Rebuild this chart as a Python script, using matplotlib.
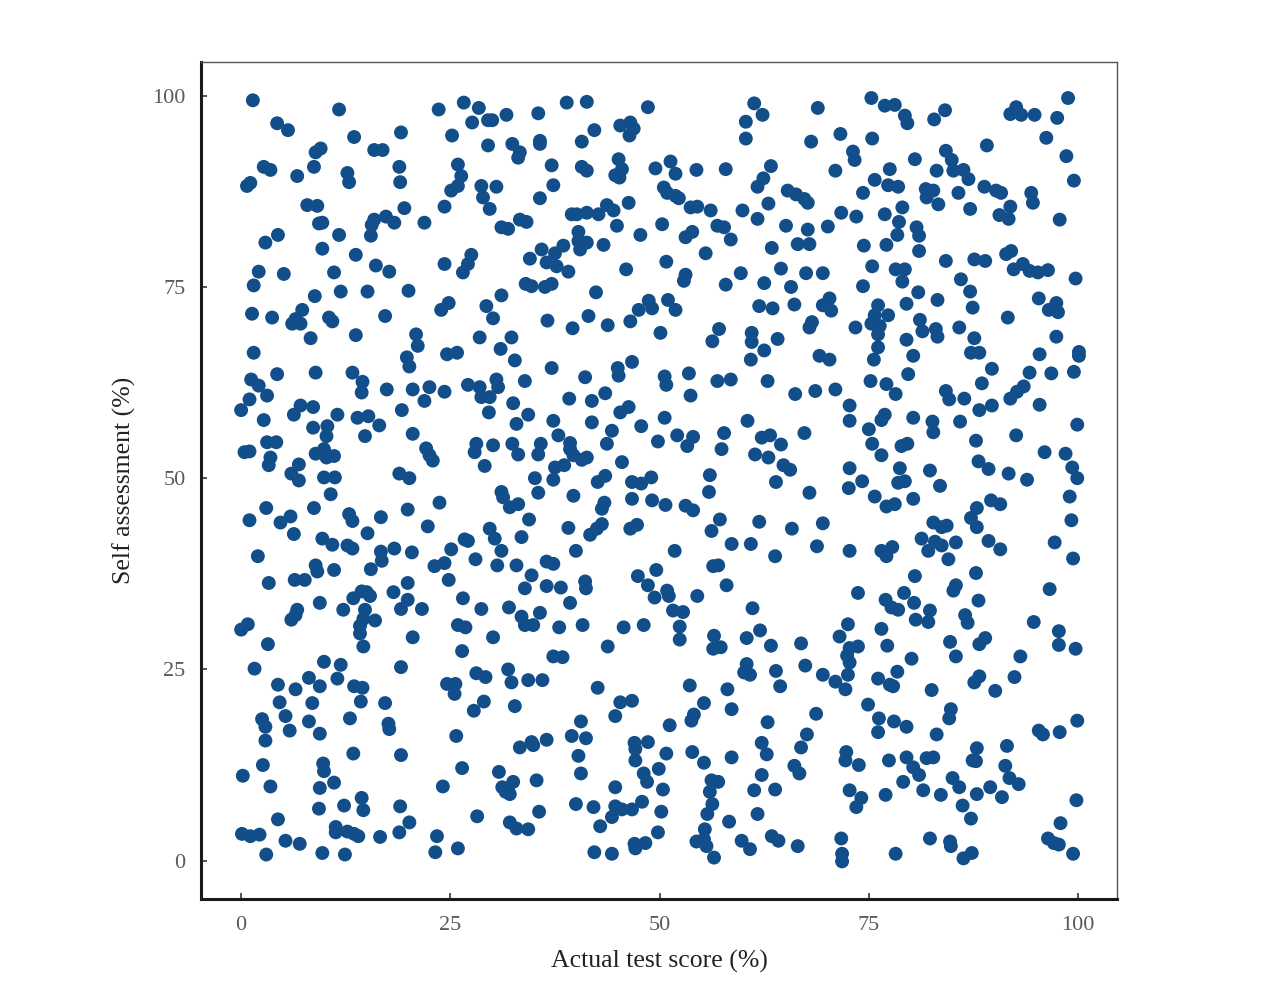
import numpy as np
import matplotlib.pyplot as plt

# (actual test score %, self assessment %), region by region
scores = [
    # top-left
    (1.4, 99.4), (11.7, 98.2), (4.3, 96.4), (5.6, 95.5), (13.5, 94.6), (19.1, 95.2),
    (8.9, 92.6), (9.5, 93.1), (15.9, 92.9), (16.9, 92.9), (23.6, 98.2), (26.6, 99.1),
    (28.4, 98.4), (27.6, 96.5), (29.5, 96.8), (30.0, 96.8), (31.7, 97.5), (25.2, 94.8),
    (29.5, 93.5), (2.7, 90.7), (3.5, 90.3), (6.7, 89.5), (8.7, 90.7), (12.7, 89.9),
    (12.9, 88.7), (18.9, 90.7), (19.0, 88.7), (1.1, 88.6), (0.7, 88.2), (25.9, 91.0),
    (26.3, 89.5), (25.9, 88.2), (25.1, 87.6), (28.7, 88.2), (30.5, 88.1), (28.9, 86.7),
    (29.7, 85.2), (24.3, 85.5), (7.9, 85.7), (9.1, 85.6), (9.3, 83.3), (9.7, 83.4),
    (15.9, 83.8), (17.3, 84.2), (18.3, 83.4), (15.6, 83.1), (19.5, 85.3), (21.9, 83.4),
    (15.5, 81.7), (11.7, 81.8), (2.9, 80.8), (4.4, 81.8), (9.7, 80.0), (13.7, 79.2),
    (16.1, 77.8), (17.7, 77.0), (24.3, 78.0), (27.5, 79.2), (27.1, 78.0), (26.5, 76.9),
    (2.1, 77.0), (5.1, 76.7), (11.1, 76.9), (31.1, 82.8), (31.9, 82.6),
    # top-middle
    (35.5, 97.7), (38.9, 99.1), (41.3, 99.2), (48.6, 98.5), (61.3, 99.0), (62.3, 97.5),
    (60.3, 96.6), (60.3, 94.4), (68.1, 94.0), (32.4, 93.7), (33.3, 92.6), (33.1, 91.9),
    (35.7, 94.1), (35.7, 93.7), (40.7, 94.0), (42.2, 95.5), (45.3, 96.1), (46.5, 96.5),
    (46.9, 95.7), (46.4, 94.8), (37.1, 90.9), (40.7, 90.7), (41.3, 90.2), (45.1, 91.7),
    (45.5, 90.4), (44.7, 89.6), (45.2, 89.3), (49.5, 90.5), (51.3, 91.4), (51.9, 89.8),
    (54.4, 90.3), (57.9, 90.4), (63.3, 90.8), (62.4, 89.2), (61.7, 88.1), (37.3, 88.3),
    (35.7, 86.6), (50.5, 88.0), (50.9, 87.3), (51.9, 86.9), (52.3, 86.6), (46.3, 86.0),
    (65.3, 87.6), (66.3, 87.1), (67.3, 86.5), (67.7, 86.0), (33.3, 83.8), (34.1, 83.5),
    (39.5, 84.5), (40.1, 84.5), (41.3, 84.7), (42.7, 84.5), (43.7, 85.7), (44.5, 85.0),
    (44.9, 83.0), (53.7, 85.4), (54.5, 85.5), (56.1, 85.0), (59.9, 85.0), (63.0, 85.9),
    (61.7, 83.9), (50.3, 83.2), (56.9, 83.0), (57.7, 82.8), (47.7, 81.8), (53.1, 81.5),
    (53.9, 82.2), (58.5, 81.2), (65.1, 83.0), (67.7, 82.5), (66.5, 80.6), (67.9, 80.6),
    (40.3, 82.2), (40.3, 81.0), (41.3, 80.8), (40.5, 79.9), (43.3, 80.5), (38.5, 80.4),
    (37.5, 79.4), (35.9, 79.9), (34.5, 78.7), (36.5, 78.2), (37.7, 77.7), (39.1, 77.0),
    (46.0, 77.3), (50.8, 78.3), (55.5, 79.4), (63.4, 80.1), (64.5, 77.4), (59.7, 76.8),
    (67.5, 76.8), (53.1, 76.6),
    # top-right
    (68.9, 98.4), (75.3, 99.7), (76.9, 98.7), (78.1, 98.8), (79.3, 97.4), (79.6, 96.4),
    (82.8, 96.9), (84.1, 98.1), (91.9, 97.6), (92.6, 98.5), (93.2, 97.5), (94.8, 97.5),
    (97.5, 97.1), (98.8, 99.7), (71.6, 95.0), (75.4, 94.4), (96.2, 94.5), (89.1, 93.5),
    (98.6, 92.1), (99.5, 88.9), (73.1, 92.7), (73.3, 91.6), (80.5, 91.7), (71.0, 90.2),
    (77.5, 90.4), (75.7, 89.0), (77.3, 88.3), (78.5, 88.1), (84.2, 92.8), (84.9, 91.6),
    (85.1, 90.2), (83.1, 90.2), (86.3, 90.3), (86.9, 89.1), (88.8, 88.1), (90.2, 87.6),
    (90.8, 87.3), (85.7, 87.3), (81.8, 87.8), (82.7, 87.6), (81.9, 86.7), (83.3, 85.8),
    (87.1, 85.2), (74.3, 87.3), (94.4, 87.3), (94.6, 86.0), (91.9, 85.5), (90.6, 84.4),
    (91.7, 83.9), (97.8, 83.8), (71.7, 84.7), (73.5, 84.2), (76.9, 84.5), (79.0, 85.4),
    (78.6, 83.5), (78.4, 81.8), (80.7, 82.8), (81.0, 81.7), (70.1, 82.9), (74.4, 80.4),
    (77.1, 80.5), (81.0, 79.7), (75.4, 77.7), (78.2, 77.3), (79.3, 77.3), (84.2, 78.4),
    (87.6, 78.6), (88.9, 78.4), (91.4, 79.3), (92.0, 79.7), (92.3, 77.3), (93.4, 78.0),
    (94.2, 77.1), (95.2, 76.9), (96.4, 77.2), (69.5, 76.8),
    # upper-middle left
    (1.5, 75.2), (8.8, 73.8), (11.9, 74.4), (15.1, 74.4), (20.0, 74.5), (31.1, 73.9),
    (1.3, 71.5), (3.7, 71.0), (6.5, 70.8), (6.1, 70.2), (7.3, 72.0), (7.1, 70.2),
    (10.5, 71.0), (10.9, 70.5), (17.2, 71.2), (23.9, 72.0), (24.8, 72.9), (29.3, 72.5),
    (30.1, 70.9), (8.3, 68.3), (13.7, 68.7), (20.9, 68.8), (21.1, 67.3), (28.5, 68.4),
    (31.0, 66.9), (1.5, 66.4), (19.8, 65.8), (20.1, 64.6), (24.6, 66.2), (25.8, 66.4),
    (1.2, 62.9), (2.1, 62.1), (3.1, 60.8), (1.0, 60.3), (0.0, 58.9), (4.3, 63.6),
    (8.9, 63.8), (13.3, 63.8), (14.5, 62.6), (14.4, 61.2), (17.4, 61.6), (20.5, 61.6),
    (22.5, 61.9), (21.9, 60.1), (24.3, 61.3), (27.1, 62.2), (28.5, 61.9), (30.5, 62.9),
    (30.7, 61.9), (28.7, 60.6), (29.7, 60.6), (29.6, 58.6), (7.1, 59.5), (6.3, 58.3),
    (8.6, 59.3), (2.7, 57.6), (11.5, 58.3), (8.6, 56.6), (10.3, 56.8), (10.2, 55.5),
    (13.9, 57.9), (15.2, 58.1), (16.5, 56.9), (14.8, 55.5), (19.2, 58.9), (20.5, 55.8),
    (1.0, 53.5), (0.4, 53.4), (3.1, 54.7), (4.2, 54.7), (3.5, 52.7), (3.3, 51.7),
    (6.9, 51.8), (6.0, 50.6), (6.9, 49.7), (8.9, 53.2), (9.9, 53.8), (10.2, 52.7),
    (11.1, 52.9), (9.9, 50.1), (11.2, 50.1), (18.9, 50.6), (20.1, 50.0), (22.1, 53.9),
    (22.5, 53.0), (22.9, 52.3), (28.1, 54.5), (27.9, 53.4), (30.1, 54.3), (29.1, 51.6),
    # upper-middle centre
    (34.0, 75.4), (34.7, 75.1), (36.3, 75.0), (37.1, 75.4), (52.9, 75.8), (57.9, 75.3),
    (62.5, 75.5), (65.7, 75.0), (42.4, 74.3), (36.6, 70.6), (39.6, 69.6), (41.5, 71.2),
    (43.8, 70.0), (46.5, 70.5), (47.5, 72.0), (48.7, 73.2), (49.1, 72.2), (51.0, 73.3),
    (51.9, 72.0), (50.1, 69.0), (32.3, 68.4), (32.7, 65.4), (37.1, 64.4), (33.9, 62.7),
    (41.1, 63.2), (45.0, 64.4), (45.1, 63.4), (46.7, 65.2), (50.6, 63.3), (50.8, 62.2),
    (53.5, 63.7), (53.7, 60.8), (57.1, 69.5), (56.3, 67.9), (61.0, 69.0), (61.0, 67.8),
    (62.5, 66.7), (64.1, 68.2), (60.9, 65.5), (61.9, 72.5), (63.5, 72.2), (66.1, 72.7),
    (67.9, 69.7), (56.9, 62.7), (58.5, 62.9), (62.9, 62.7), (66.2, 61.0), (32.5, 59.8),
    (32.9, 57.1), (34.3, 58.3), (37.3, 57.5), (39.2, 60.4), (41.9, 60.1), (43.5, 61.1),
    (45.3, 58.6), (46.3, 59.3), (41.9, 57.3), (47.8, 56.8), (50.6, 57.9), (44.3, 56.2),
    (37.9, 55.6), (32.4, 54.5), (33.1, 53.1), (35.8, 54.5), (35.5, 53.1), (39.3, 54.6),
    (39.3, 53.8), (39.7, 53.0), (40.7, 52.4), (41.3, 52.7), (43.7, 54.5), (49.8, 54.8),
    (52.1, 55.6), (54.0, 55.4), (53.3, 54.2), (57.7, 55.9), (57.4, 53.8), (60.5, 57.5),
    (62.2, 55.3), (63.2, 55.6), (64.5, 54.4), (61.4, 53.1), (63.0, 52.7), (67.3, 55.9),
    (64.8, 51.7), (65.6, 51.1), (45.5, 52.1), (37.5, 51.4), (38.6, 51.7), (35.1, 50.0),
    (37.3, 49.8), (43.5, 50.3), (42.6, 49.5), (46.7, 49.5), (47.8, 49.3), (49.0, 50.1),
    (56.0, 50.4), (63.9, 49.5),
    # upper-middle right
    (99.7, 76.1), (86.0, 76.0), (74.3, 75.1), (79.0, 75.7), (80.9, 74.3), (83.2, 73.3),
    (87.1, 74.4), (87.4, 72.3), (69.5, 72.6), (70.3, 73.5), (70.5, 71.9), (68.2, 70.4),
    (76.1, 72.6), (75.7, 71.3), (77.3, 71.3), (75.3, 70.2), (76.3, 69.9), (76.1, 68.8),
    (76.1, 67.1), (73.4, 69.7), (79.5, 72.8), (81.1, 70.7), (81.4, 69.2), (83.0, 69.5),
    (83.2, 68.5), (85.8, 69.7), (79.5, 68.1), (80.3, 66.0), (87.6, 68.3), (87.2, 66.4),
    (88.2, 66.4), (91.6, 71.0), (95.3, 73.5), (97.4, 72.9), (96.5, 72.0), (97.6, 71.7),
    (97.4, 68.5), (100.1, 66.5), (100.1, 66.0), (95.4, 66.2), (99.5, 63.9), (96.8, 63.7),
    (94.2, 63.8), (89.7, 64.3), (69.1, 66.0), (70.3, 65.5), (75.6, 65.5), (79.7, 63.6),
    (75.2, 62.7), (77.1, 62.3), (78.2, 61.0), (68.6, 61.4), (71.0, 61.6), (88.5, 62.4),
    (84.2, 61.4), (84.6, 60.3), (86.4, 60.4), (93.5, 62.0), (92.7, 61.3), (91.9, 60.4),
    (89.7, 59.5), (88.2, 58.9), (95.4, 59.6), (72.7, 59.5), (72.7, 57.5), (76.9, 58.3),
    (76.5, 57.6), (80.3, 57.9), (82.6, 57.4), (82.7, 56.0), (85.9, 57.4), (75.0, 56.4),
    (92.6, 55.6), (99.9, 57.0), (75.4, 54.5), (78.9, 54.2), (79.6, 54.5), (76.5, 53.0),
    (87.8, 54.9), (88.1, 52.2), (89.3, 51.2), (96.0, 53.4), (98.5, 53.2), (99.3, 51.4),
    (99.9, 50.0), (72.7, 51.3), (78.7, 51.3), (82.3, 51.0), (91.7, 50.6), (93.9, 49.8),
    (74.2, 49.6), (78.5, 49.4), (79.3, 49.6),
    # lower-middle left
    (10.7, 47.9), (1.0, 44.5), (3.0, 46.1), (4.7, 44.2), (5.9, 45.0), (6.3, 42.7),
    (8.7, 46.1), (12.9, 45.3), (13.3, 44.4), (16.7, 44.9), (19.9, 45.9), (23.7, 46.8),
    (22.3, 43.7), (15.1, 42.8), (9.7, 42.1), (10.9, 41.3), (12.7, 41.2), (13.3, 40.8),
    (2.0, 39.8), (8.9, 38.6), (9.1, 37.8), (11.1, 38.0), (16.7, 40.4), (16.8, 39.2),
    (18.3, 40.8), (20.4, 40.3), (15.5, 38.1), (6.4, 36.7), (7.6, 36.7), (3.3, 36.3),
    (23.1, 38.5), (24.3, 38.9), (24.8, 36.7), (25.1, 40.7), (26.7, 42.0), (27.1, 41.8),
    (28.0, 39.4), (29.7, 43.4), (30.3, 42.1), (31.1, 40.5), (30.6, 38.6), (31.1, 48.2),
    (31.3, 47.5), (9.4, 33.7), (12.2, 32.8), (13.4, 34.3), (14.4, 35.2), (15.0, 35.1),
    (15.4, 34.6), (14.8, 32.8), (14.6, 31.6), (16.0, 31.4), (14.2, 30.7), (14.2, 29.7),
    (14.6, 28.0), (18.2, 35.1), (19.9, 36.3), (19.9, 34.1), (19.1, 32.9), (21.6, 32.9),
    (20.5, 29.2), (26.5, 34.3), (28.7, 32.9), (25.9, 30.8), (26.8, 30.5), (26.4, 27.4),
    (30.1, 29.2), (6.7, 32.8), (6.0, 31.5), (6.5, 32.1), (0.8, 30.9), (0.0, 30.2),
    (3.2, 28.3), (1.6, 25.1), (9.9, 26.0), (11.9, 25.6), (8.1, 23.9), (11.5, 23.8),
    (4.4, 23.0), (6.5, 22.4), (9.4, 22.8), (13.5, 22.8), (14.5, 22.6), (19.1, 25.3),
    (24.6, 23.1), (25.6, 23.1), (28.1, 24.5), (29.2, 24.0),
    # lower-middle centre
    (35.5, 48.1), (39.7, 47.7), (55.9, 48.2), (67.9, 48.1), (32.1, 46.2), (33.1, 46.6),
    (34.4, 44.6), (33.5, 42.3), (39.1, 43.5), (43.4, 46.8), (43.1, 46.0), (43.1, 44.0),
    (42.5, 43.4), (41.7, 42.6), (46.7, 47.3), (46.5, 43.4), (47.3, 43.9), (49.1, 47.1),
    (50.7, 46.5), (53.1, 46.4), (54.0, 45.8), (40.0, 40.5), (32.9, 38.6), (34.7, 37.3),
    (36.5, 39.1), (37.3, 38.8), (33.9, 35.6), (36.5, 35.9), (38.2, 35.7), (41.1, 36.5),
    (41.2, 35.6), (39.3, 33.7), (32.0, 33.1), (33.5, 31.9), (33.9, 30.8), (34.9, 30.8),
    (35.7, 32.4), (38.0, 30.5), (40.8, 30.8), (45.7, 30.5), (48.1, 30.8), (43.8, 28.0),
    (37.3, 26.7), (38.4, 26.6), (31.9, 25.0), (32.3, 23.3), (34.3, 23.6), (36.0, 23.6),
    (42.6, 22.6), (47.4, 37.2), (49.6, 38.0), (48.6, 36.0), (49.4, 34.4), (50.9, 35.3),
    (51.1, 34.6), (51.6, 32.7), (52.8, 32.5), (52.4, 30.6), (52.4, 28.9), (51.8, 40.5),
    (54.5, 34.6), (56.2, 43.1), (57.2, 44.6), (58.6, 41.4), (60.9, 41.4), (61.9, 44.3),
    (65.8, 43.4), (63.8, 39.8), (56.4, 38.5), (57.0, 38.6), (58.0, 36.0), (61.1, 33.0),
    (62.0, 30.1), (60.4, 29.1), (56.5, 29.4), (56.4, 27.7), (57.3, 27.9), (63.3, 28.1),
    (66.9, 28.4), (67.4, 25.5), (60.4, 25.7), (60.1, 24.6), (60.8, 24.3), (63.9, 24.8),
    (64.4, 22.8), (53.6, 22.9), (58.1, 22.4),
    # lower-middle right
    (83.5, 49.0), (72.6, 48.7), (99.0, 47.6), (99.2, 44.5), (99.4, 39.5), (97.2, 41.6),
    (96.6, 35.5), (69.5, 44.1), (68.8, 41.1), (72.7, 40.5), (75.7, 47.6), (77.1, 46.3),
    (78.1, 46.6), (80.3, 47.3), (76.5, 40.5), (77.1, 39.8), (77.8, 41.0), (81.3, 42.1),
    (82.7, 44.2), (83.7, 43.6), (84.3, 43.8), (82.9, 41.7), (83.7, 41.2), (82.1, 40.5),
    (85.4, 41.6), (84.5, 39.4), (87.2, 44.8), (87.9, 46.1), (87.9, 43.6), (89.6, 47.1),
    (90.7, 46.6), (89.3, 41.8), (90.7, 40.7), (80.5, 37.2), (87.8, 37.6), (85.4, 36.0),
    (85.1, 35.3), (88.1, 34.0), (73.7, 35.0), (77.0, 34.1), (77.7, 33.1), (78.5, 32.8),
    (79.2, 35.0), (80.4, 33.7), (82.3, 32.7), (80.6, 31.5), (82.1, 31.2), (86.5, 32.1),
    (86.8, 31.1), (94.7, 31.2), (97.7, 30.0), (97.7, 28.2), (99.7, 27.7), (72.5, 30.9),
    (71.5, 29.3), (76.5, 30.3), (77.2, 28.1), (73.7, 28.0), (72.7, 27.8), (72.4, 26.8),
    (72.7, 25.9), (72.5, 24.3), (80.1, 26.4), (84.7, 28.6), (85.4, 26.7), (88.2, 28.3),
    (88.9, 29.1), (93.1, 26.7), (92.4, 24.0), (69.5, 24.3), (71.0, 23.4), (72.2, 22.4),
    (76.1, 23.8), (78.4, 24.7), (77.5, 23.0), (77.9, 22.8), (82.5, 22.3), (87.6, 23.3),
    (88.2, 24.1), (90.1, 22.2),
    # bottom-left
    (14.3, 20.8), (25.5, 21.8), (4.6, 20.7), (8.5, 20.6), (17.2, 20.6), (29.0, 20.8),
    (27.8, 19.6), (2.5, 18.5), (2.9, 17.5), (2.9, 15.7), (5.3, 18.9), (5.8, 17.0),
    (8.1, 18.2), (9.4, 16.6), (13.0, 18.6), (17.6, 17.9), (17.7, 17.2), (25.7, 16.3),
    (13.4, 14.0), (19.1, 13.8), (2.6, 12.5), (0.2, 11.1), (3.5, 9.7), (9.8, 12.7),
    (9.9, 11.7), (11.1, 10.2), (9.4, 9.5), (26.4, 12.1), (30.8, 11.6), (31.2, 9.6),
    (31.6, 9.0), (24.1, 9.7), (12.3, 7.2), (14.4, 8.2), (14.6, 6.6), (9.3, 6.8),
    (19.0, 7.1), (20.1, 5.0), (18.9, 3.7), (4.4, 5.4), (0.1, 3.5), (1.1, 3.2),
    (2.2, 3.4), (5.3, 2.6), (7.0, 2.2), (3.0, 0.8), (9.7, 1.0), (12.4, 0.8),
    (11.3, 4.4), (11.3, 3.7), (12.7, 3.8), (13.5, 3.5), (14.0, 3.2), (16.6, 3.1),
    (23.4, 3.2), (23.2, 1.1), (25.9, 1.6), (28.2, 5.8),
    # bottom-centre
    (32.7, 20.2), (45.3, 20.7), (46.7, 20.9), (44.7, 18.9), (55.3, 20.6), (58.6, 19.8),
    (54.1, 19.1), (53.8, 18.3), (51.2, 17.7), (62.9, 18.1), (40.6, 18.2), (39.5, 16.3),
    (41.2, 16.0), (33.3, 14.8), (34.7, 15.5), (34.9, 15.1), (36.5, 15.8), (40.3, 13.7),
    (40.6, 11.4), (47.0, 15.4), (47.1, 14.6), (48.6, 15.5), (47.1, 13.1), (50.8, 14.0),
    (49.9, 12.0), (48.1, 11.4), (48.5, 10.3), (50.4, 9.3), (53.9, 14.2), (55.3, 12.8),
    (58.6, 13.5), (62.2, 15.4), (62.8, 13.9), (66.1, 12.4), (66.7, 11.4), (66.9, 14.8),
    (67.6, 16.5), (32.5, 10.3), (31.9, 9.2), (32.1, 8.7), (35.3, 10.5), (44.7, 9.6),
    (44.7, 7.1), (44.3, 5.7), (45.5, 6.7), (46.7, 6.7), (47.9, 7.7), (50.2, 6.4),
    (49.8, 3.7), (42.9, 4.5), (42.1, 7.0), (40.0, 7.4), (35.6, 6.4), (32.1, 5.0),
    (32.9, 4.2), (34.3, 4.1), (42.2, 1.1), (44.3, 0.9), (47.0, 2.2), (47.1, 1.6),
    (48.3, 2.3), (56.2, 10.5), (57.0, 10.3), (56.0, 9.0), (56.3, 7.4), (55.7, 6.1),
    (55.4, 4.1), (54.4, 2.5), (55.3, 2.8), (55.6, 1.9), (56.5, 0.4), (58.3, 5.1),
    (62.2, 11.2), (61.3, 9.2), (63.8, 9.3), (61.7, 6.1), (59.8, 2.6), (60.8, 1.5),
    (63.4, 3.2), (64.2, 2.6), (66.5, 1.9),
    # bottom-right
    (68.7, 19.2), (74.9, 20.4), (76.2, 18.6), (76.1, 16.8), (78.0, 18.2), (79.5, 17.5),
    (84.8, 19.8), (84.6, 18.6), (83.1, 16.5), (95.3, 17.0), (95.8, 16.5), (97.8, 16.8),
    (99.9, 18.3), (72.3, 14.2), (72.2, 13.1), (73.8, 12.5), (77.4, 13.1), (79.5, 13.5),
    (80.3, 12.2), (81.0, 11.2), (81.9, 13.4), (82.7, 13.5), (87.9, 14.7), (87.4, 13.1),
    (87.8, 13.0), (91.5, 15.0), (91.3, 12.4), (91.8, 10.8), (92.9, 10.0), (72.7, 9.2),
    (74.1, 8.2), (73.5, 7.0), (77.0, 8.6), (79.1, 10.3), (81.5, 9.2), (83.6, 8.6),
    (85.0, 10.8), (85.8, 9.6), (87.9, 8.7), (89.5, 9.6), (90.9, 8.3), (86.2, 7.2),
    (87.2, 5.5), (99.8, 7.9), (97.9, 4.9), (71.7, 2.9), (71.8, 0.9), (71.8, -0.1),
    (78.2, 0.9), (82.3, 2.9), (84.7, 2.5), (84.8, 1.9), (86.3, 0.3), (87.3, 1.0),
    (96.4, 2.9), (97.1, 2.3), (97.7, 2.1), (99.4, 0.9),
]

actual_score = np.array([p[0] for p in scores])
self_assessment = np.array([p[1] for p in scores])

ticks = [0, 25, 50, 75, 100]
x_label = "Actual test score (%)"
y_label = "Self assessment (%)"

plt.rcParams["font.family"] = ["Liberation Serif", "DejaVu Serif"]

fig = plt.figure(figsize=(12.8, 10.01), dpi=100)
ax = fig.add_axes([0.157, 0.102, 0.716, 0.836])

ax.scatter(actual_score, self_assessment, s=100, c="#124e89",
           edgecolors="none", zorder=3)

ax.set_xlim(-4.8, 104.7)
ax.set_ylim(-5.0, 104.4)
ax.set_xticks(ticks)
ax.set_yticks(ticks)
ax.tick_params(direction="in", length=4, width=1.2, colors="#333333",
               labelcolor="#5a5a5a", labelsize=16)
ax.tick_params(axis="x", pad=12)
ax.tick_params(axis="y", pad=11)

for side in ("left", "bottom"):
    ax.spines[side].set_linewidth(2.2)
    ax.spines[side].set_color("#1a1a1a")
for side in ("top", "right"):
    ax.spines[side].set_linewidth(1.0)
    ax.spines[side].set_color("#555555")

ax.set_xlabel(x_label, fontsize=18.5, color="#222222", labelpad=11)
ax.set_ylabel(y_label, fontsize=18.5, color="#222222", labelpad=12)

fig.savefig("out.png", dpi=100)
